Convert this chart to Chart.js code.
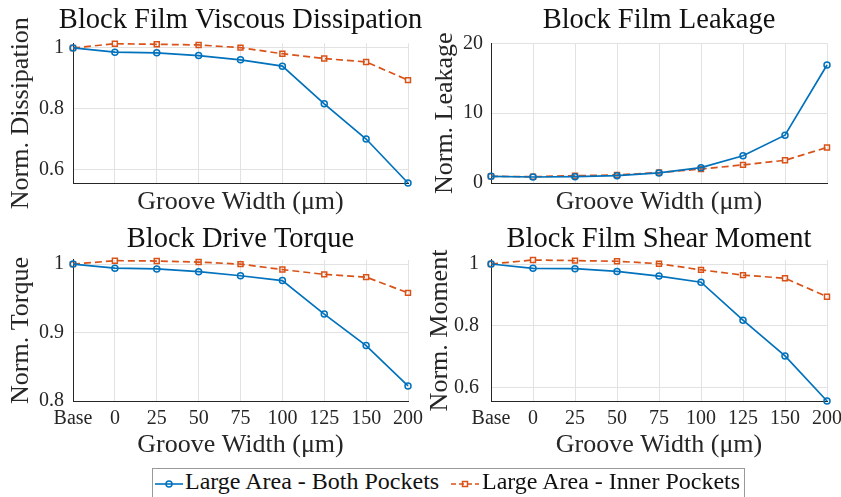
<!DOCTYPE html>
<html>
<head>
<meta charset="utf-8">
<script src="https://cdn.jsdelivr.net/npm/chart.js@4.4.1/dist/chart.umd.min.js"></script>
<style>
  html, body { margin: 0; padding: 0; background: #fff; overflow: hidden; }
  body { width: 841px; height: 497px; position: relative; }
  canvas { position: absolute; }
  #legend { position: absolute; left: 152px; top: 468px; width: 593px; height: 32px;
            border: 1px solid #999; box-sizing: border-box; background: #fff;
            font-family: 'Liberation Serif', 'Times New Roman', serif; color: #111; }
  #legend span { position: absolute; top: 0; font-size: 24px; line-height: 24px; white-space: nowrap; }
  #legend svg { position: absolute; top: 0; }
</style>
</head>
<body>
<canvas id="c1" width="481" height="218" style="left:0;top:0"></canvas>
<canvas id="c2" width="478" height="218" style="left:420px;top:0"></canvas>
<canvas id="c3" width="481" height="248" style="left:0;top:218px"></canvas>
<canvas id="c4" width="478" height="248" style="left:420px;top:218px"></canvas>
<div id="legend"></div>
<script>
// groove widths (um), first point is the baseline design
var categories = ['Base', '0', '25', '50', '75', '100', '125', '150', '200'];
var seriesNames = ['Large Area - Both Pockets', 'Large Area - Inner Pockets'];

var dissBoth  = [1.000, 0.986, 0.984, 0.975, 0.961, 0.940, 0.816, 0.700, 0.555];
var dissInner = [1.000, 1.014, 1.012, 1.010, 1.001, 0.981, 0.965, 0.954, 0.894];

var leakBoth  = [0.96, 0.86, 0.90, 1.05, 1.44, 2.20, 3.90, 6.85, 16.9];
var leakInner = [0.96, 0.90, 1.05, 1.15, 1.50, 2.00, 2.60, 3.25, 5.10];

var torqueBoth  = [1.000, 0.994, 0.993, 0.989, 0.983, 0.976, 0.927, 0.881, 0.822];
var torqueInner = [1.000, 1.005, 1.0045, 1.003, 1.000, 0.992, 0.985, 0.981, 0.958];

var momentBoth  = [1.000, 0.986, 0.985, 0.976, 0.961, 0.941, 0.818, 0.702, 0.556];
var momentInner = [1.000, 1.013, 1.011, 1.009, 1.001, 0.981, 0.964, 0.954, 0.894];

var dissTicks = [0.6, 0.8, 1];
var leakTicks = [0, 10, 20];
var torqueTicks = [0.8, 0.9, 1];
var momentTicks = [0.6, 0.8, 1];

var blue = '#0072BD';
var orange = '#D95319';
var gridColor = '#e2e2e2';
var axisColor = '#262626';
var serif = "'Liberation Serif', 'Times New Roman', serif";

Chart.defaults.font.family = serif;
Chart.defaults.color = '#262626';

function makeChart(id, o) {
    var ctx = document.getElementById(id).getContext('2d');
    return new Chart(ctx, {
        type: 'line',
        data: {
            labels: categories,
            datasets: [{
                label: seriesNames[0],
                data: o.both,
                borderColor: blue,
                borderWidth: 1.7,
                pointStyle: 'circle',
                pointRadius: 3,
                pointBorderWidth: 1.5,
                pointBorderColor: blue,
                pointBackgroundColor: 'rgba(255,255,255,0)',
                tension: 0,
                clip: 8
            }, {
                label: seriesNames[1],
                data: o.inner,
                borderColor: orange,
                borderWidth: 1.7,
                borderDash: [7, 4],
                pointStyle: 'rect',
                pointRadius: 3.5,
                pointBorderWidth: 1.5,
                pointBorderColor: orange,
                pointBackgroundColor: 'rgba(255,255,255,0)',
                tension: 0,
                clip: 8
            }]
        },
        options: {
            responsive: false,
            animation: false,
            events: [],
            devicePixelRatio: 1,
            layout: { padding: 0 },
            plugins: {
                legend: { display: false },
                tooltip: { enabled: false },
                title: {
                    display: true,
                    text: o.title,
                    color: '#111',
                    font: { family: serif, size: 28.5, weight: 'normal' },
                    padding: o.titlePad,
                    fullSize: true
                }
            },
            scales: {
                x: {
                    type: 'category',
                    offset: false,
                    grid: { color: gridColor, drawTicks: false, offset: false },
                    border: { color: axisColor, width: 1 },
                    ticks: { display: o.showTicks, font: { family: serif, size: 20 }, padding: 6, autoSkip: false, maxRotation: 0 },
                    title: { display: true, text: 'Groove Width (\u03bcm)', font: { family: serif, size: 26 }, padding: o.xTitlePad },
                    afterFit: function (s) { s.height = o.xHeight; }
                },
                y: {
                    min: o.min,
                    max: o.max,
                    bounds: 'data',
                    grid: { color: gridColor, drawTicks: false },
                    border: { color: axisColor, width: 1 },
                    ticks: { font: { family: serif, size: 20 }, padding: o.yTickPad, callback: function (v) { return String(v); } },
                    afterBuildTicks: function (s) { s.ticks = o.ticks.map(function (v) { return { value: v }; }); },
                    title: { display: true, text: o.yTitle, font: { family: serif, size: 26 }, padding: { top: o.yTitlePad, bottom: 0 } },
                    afterFit: function (s) { s.width = o.yWidth; }
                },
                // empty right box so the title centres over the plot area
                pad: {
                    type: 'linear',
                    position: 'right',
                    grid: { display: false },
                    border: { display: false },
                    ticks: { display: false },
                    afterFit: function (s) { s.width = o.yWidth; }
                }
            }
        }
    });
}

function drawAll() {
    makeChart('c1', {
        title: 'Block Film Viscous Dissipation', yTitle: 'Norm. Dissipation',
        both: dissBoth, inner: dissInner, min: 0.555, max: 1.015, ticks: dissTicks,
        titlePad: { top: 3, bottom: 6.2 }, showTicks: false, xHeight: 35, xTitlePad: { top: 0, bottom: 0 },
        yWidth: 73, yTickPad: 9, yTitlePad: 6
    });
    makeChart('c2', {
        title: 'Block Film Leakage', yTitle: 'Norm. Leakage',
        both: leakBoth, inner: leakInner, min: 0, max: 20, ticks: leakTicks,
        titlePad: { top: 3, bottom: 6.2 }, showTicks: false, xHeight: 35, xTitlePad: { top: 0, bottom: 0 },
        yWidth: 71, yTickPad: 8, yTitlePad: 9.5
    });
    makeChart('c3', {
        title: 'Block Drive Torque', yTitle: 'Norm. Torque',
        both: torqueBoth, inner: torqueInner, min: 0.8, max: 1.006, ticks: torqueTicks,
        titlePad: { top: 4, bottom: 3.8 }, showTicks: true, xHeight: 65, xTitlePad: { top: 0, bottom: 5 },
        yWidth: 73, yTickPad: 9, yTitlePad: 6
    });
    makeChart('c4', {
        title: 'Block Film Shear Moment', yTitle: 'Norm. Moment',
        both: momentBoth, inner: momentInner, min: 0.556, max: 1.013, ticks: momentTicks,
        titlePad: { top: 4, bottom: 3.8 }, showTicks: true, xHeight: 65, xTitlePad: { top: 0, bottom: 5 },
        yWidth: 71, yTickPad: 12, yTitlePad: 5
    });
}

// shared legend under the four panels
var legend = document.getElementById('legend');
var entries = [
    { name: seriesNames[0], color: blue, dash: '', marker: 'circle', x: 2, textX: 32 },
    { name: seriesNames[1], color: orange, dash: '5,3', marker: 'rect', x: 298, textX: 329 }
];
entries.forEach(function (e) {
    var m = e.marker === 'circle'
        ? '<circle cx="14" cy="15" r="3" fill="none" stroke="' + e.color + '" stroke-width="1.5"/>'
        : '<rect x="11.5" y="12.5" width="5" height="5" fill="none" stroke="' + e.color + '" stroke-width="1.5"/>';
    legend.innerHTML +=
        '<svg width="28" height="30" style="left:' + e.x + 'px">' +
        '<line x1="0" y1="15" x2="28" y2="15" stroke="' + e.color + '" stroke-width="1.6"' +
        (e.dash ? ' stroke-dasharray="' + e.dash + '"' : '') + '/>' + m + '</svg>' +
        '<span style="left:' + e.textX + 'px">' + e.name + '</span>';
});

// make sure the serif face is ready before the canvases draw text
if (document.fonts && document.fonts.load) {
    Promise.all([
        document.fonts.load("20px 'Liberation Serif'"),
        document.fonts.load("28px 'Liberation Serif'")
    ]).then(drawAll, drawAll);
} else {
    drawAll();
}
</script>
</body>
</html>
